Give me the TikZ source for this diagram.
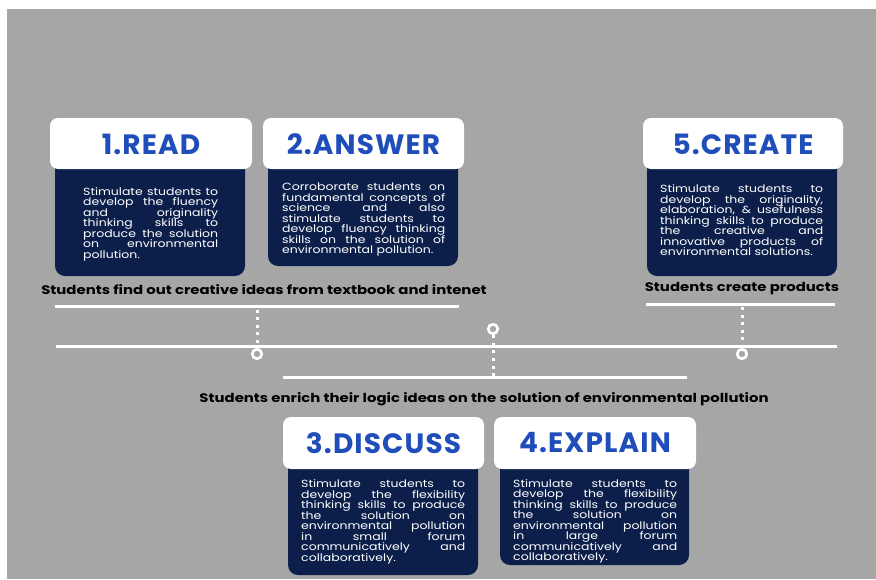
\documentclass[tikz,border=0pt]{standalone}
\usepackage{fontspec}
\setmainfont{Poppins}
\newfontfamily\widefont[FakeStretch=1.2]{Poppins}
\newfontfamily\headfont[LetterSpace=4]{Poppins}
\definecolor{bggray}{HTML}{A6A6A6}
\definecolor{navy}{HTML}{0B1F4A}
\definecolor{titleblue}{HTML}{1F4EBA}
% one justified line of a card body: the word gaps share out the spare width
\newcommand\jline[1]{\noindent\hbox to \hsize{\spaceskip=0.28em plus 1fil\relax #1}\par}
% closing line of a card body, set flush left
\newcommand\lastline[1]{\noindent #1\par}
% keep the baselines of a card body evenly spaced
\newcommand\tightlines{\lineskiplimit=-100pt\relax\lineskip=0pt\relax}
\begin{document}
\begin{tikzpicture}[x=1pt,y=-1pt,
  header/.style={fill=white, rounded corners=8pt},
  bodybox/.style={fill=navy, rounded corners=10pt},
  title/.style={text=titleblue, font=\headfont\fontsize{28}{28}\selectfont\bfseries, inner sep=0pt},
  body/.style={anchor=north west, inner sep=0pt, text=white,
    font=\widefont\fontsize{10.4}{10.5}\selectfont\tightlines},
  steplabel/.style={text=black, font=\widefont\fontsize{12.4}{13}\selectfont\bfseries, inner sep=0pt},
  track/.style={draw=white, line width=3pt},
  dots/.style={draw=white, line width=3pt, dash pattern=on 3pt off 4.6pt},
  ring/.style={circle, draw=white, fill=bggray, line width=2.7pt, minimum size=9.5pt, inner sep=0pt}]
\useasboundingbox (0,0) rectangle (876,579);
\fill[white] (0,0) rectangle (876,579);
\fill[bggray] (7,9) rectangle (876,579);

% ---- card 1: READ
\fill[bodybox] (55,145) rectangle (245,276);
\fill[header] (50,118) rectangle (252,169);
\node[title] (t1) at (151,144) {1.READ};
\node[body, text width=135pt] (b1) at (83,187) {%
\jline{Stimulate students to}
\jline{develop the fluency}
\jline{and originality}
\jline{thinking skills to}
\jline{produce the solution}
\jline{on environmental}
\lastline{pollution.}};

% ---- card 2: ANSWER
\fill[bodybox] (268,145) rectangle (458,266);
\fill[header] (263,118) rectangle (464,169);
\node[title] (t2) at (363.5,144) {2.ANSWER};
\node[body, text width=163pt] (b2) at (282,183) {%
\jline{Corroborate students on}
\jline{fundamental concepts of}
\jline{science and also}
\jline{stimulate students to}
\jline{develop fluency thinking}
\jline{skills on the solution of}
\lastline{environmental pollution.}};

% ---- card 5: CREATE
\fill[bodybox] (647,145) rectangle (837,276);
\fill[header] (643,118) rectangle (843,169);
\node[title] (t5) at (743,144) {5.CREATE};
\node[body, text width=163pt] (b5) at (660,184.5) {%
\jline{Stimulate students to}
\jline{develop the originality,}
\jline{elaboration, \& usefulness}
\jline{thinking skills to produce}
\jline{the creative and}
\jline{innovative products of}
\lastline{environmental solutions.}};

% ---- card 3: DISCUSS
\fill[bodybox] (288,445) rectangle (478,575);
\fill[header] (283,417) rectangle (484,469);
\node[title] (t3) at (383.5,443) {3.DISCUSS};
\node[body, text width=164pt] (b3) at (301,479.5) {%
\jline{Stimulate students to}
\jline{develop the flexibility}
\jline{thinking skills to produce}
\jline{the solution on}
\jline{environmental pollution}
\jline{in small forum}
\jline{communicatively and}
\lastline{collaboratively.}};

% ---- card 4: EXPLAIN
\fill[bodybox] (500,445) rectangle (689,565);
\fill[header] (494,417) rectangle (696,469);
\node[title] (t4) at (595,443) {4.EXPLAIN};
\node[body, text width=164pt] (b4) at (513,479) {%
\jline{Stimulate students to}
\jline{develop the flexibility}
\jline{thinking skills to produce}
\jline{the solution on}
\jline{environmental pollution}
\jline{in large forum}
\jline{communicatively and}
\lastline{collaboratively.}};

% ---- stage captions
\node[steplabel] (l1) at (264,290) {Students find out creative ideas from textbook and intenet};
\node[steplabel] (l5) at (742,289) {Students create products};
\node[steplabel] (l3) at (484,399.5) {Students enrich their logic ideas on the solution of environmental pollution};

% ---- timeline
\coordinate (mainL) at (56,346);
\coordinate (mainR) at (837,346);
\coordinate (upL1) at (55,306.5);
\coordinate (upR1) at (459,306.5);
\coordinate (upL5) at (646,304);
\coordinate (upR5) at (835,304);
\coordinate (loL) at (283,377);
\coordinate (loR) at (687,377);
\draw[track] (mainL) -- (mainR);
\draw[track] (upL1) -- (upR1);
\draw[track] (upL5) -- (upR5);
\draw[track] (loL) -- (loR);

\node[ring] (r1) at (257,354) {};
\node[ring] (r3) at (493,329) {};
\node[ring] (r5) at (742,354) {};
\coordinate (d1) at (257,309.5);
\coordinate (d3) at (493,376);
\coordinate (d5) at (742,307);
\draw[dots] (d1) -- (r1.north);
\draw[dots] (r3.south) -- (d3);
\draw[dots] (d5) -- (r5.north);
\end{tikzpicture}
\end{document}
